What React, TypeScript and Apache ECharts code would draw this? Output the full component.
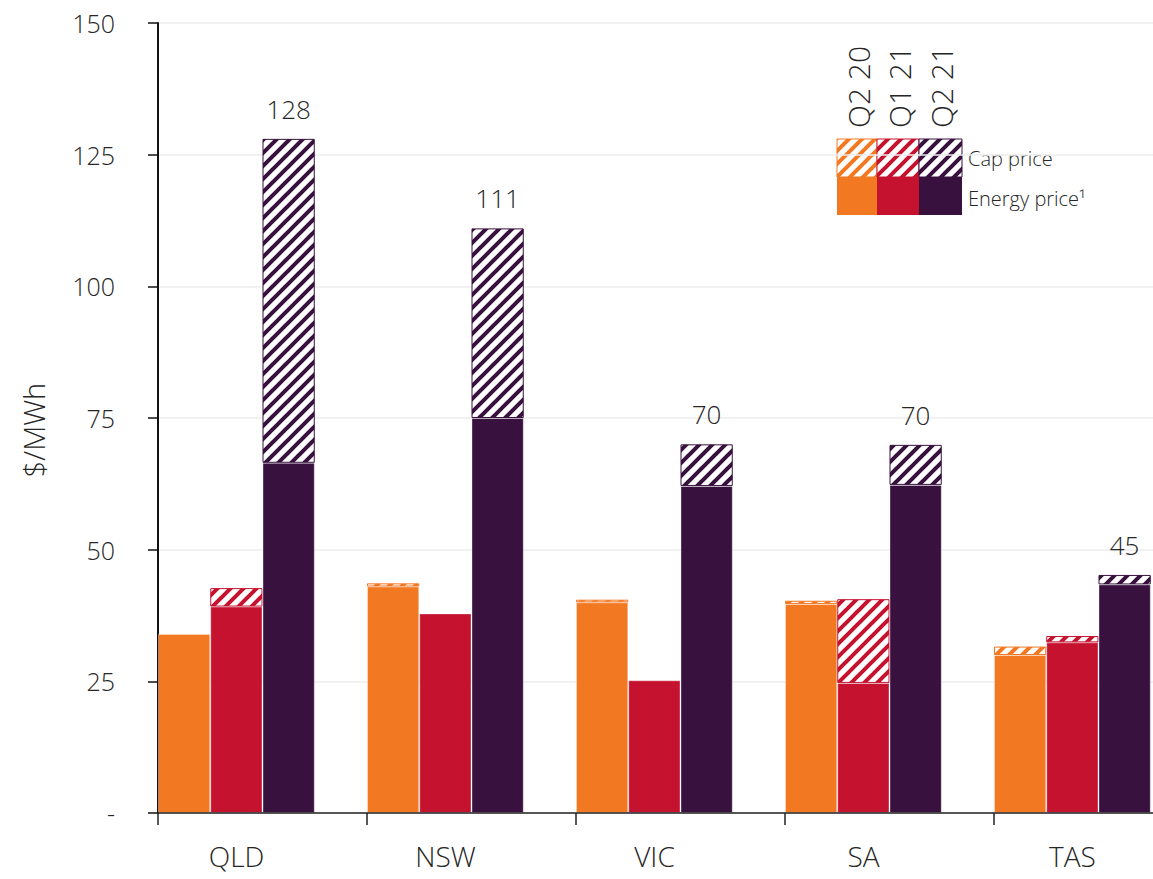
import React, { useEffect, useRef } from "react";
import * as echarts from "echarts";

const categories = ["QLD", "NSW", "VIC", "SA", "TAS"];
const periods = ["Q2 20", "Q1 21", "Q2 21"];
const energyQ220 = [34.0, 43.0, 40.0, 39.7, 30.0];
const capQ220 = [0, 0.6, 0.5, 0.6, 1.6];
const energyQ121 = [39.2, 37.9, 25.2, 24.7, 32.4];
const capQ121 = [3.5, 0, 0, 15.9, 1.2];
const energyQ221 = [66.5, 75.0, 62.1, 62.3, 43.4];
const capQ221 = [61.5, 36.0, 7.9, 7.6, 1.8];
const totalQ221 = [128, 111, 70, 70, 45];
const yTicks = [0, 25, 50, 75, 100, 125, 150];

const colors = ["#F37822", "#C5132F", "#38113E"];
const FONT = "'Open Sans', 'Noto Sans', sans-serif";
const TXT = "#262626";

function makeHatch(color: string) {
  const s = 13;
  const c = document.createElement("canvas");
  c.width = s;
  c.height = s;
  const ctx = c.getContext("2d")!;
  ctx.fillStyle = "#ffffff";
  ctx.fillRect(0, 0, s, s);
  ctx.strokeStyle = color;
  ctx.lineWidth = 4;
  ctx.lineCap = "square";
  for (let k = -1; k <= 1; k++) {
    ctx.beginPath();
    ctx.moveTo(k * s - 1, s + 1);
    ctx.lineTo(k * s + s + 1, -1);
    ctx.stroke();
  }
  return { image: c, repeat: "repeat", imageWidth: s, imageHeight: s } as any;
}

export default function App() {
  const ref = useRef<HTMLDivElement>(null);
  useEffect(() => {
    if (!ref.current) return;
    const chart = echarts.init(ref.current, null, { renderer: "svg" });
    const hatches = colors.map(makeHatch);
    const nz = (arr: number[]) => arr.map((v) => (v === 0 ? "-" : v));
    const energies = [energyQ220, energyQ121, energyQ221];
    const caps = [capQ220, capQ121, capQ221];

    const series: any[] = [];
    periods.forEach((p, i) => {
      series.push({
        name: p + " energy",
        type: "bar",
        stack: "s" + i,
        data: nz(energies[i]),
        itemStyle: { color: colors[i], borderColor: "rgba(255,255,255,0.35)", borderWidth: 1 },
        barGap: "0%",
        barCategoryGap: "0%",
      });
      const capSeries: any = {
        name: p + " cap",
        type: "bar",
        stack: "s" + i,
        data: nz(caps[i]),
        itemStyle: { color: hatches[i], borderColor: colors[i], borderWidth: 1 },
        barGap: "0%",
        barCategoryGap: "0%",
      };
      if (i === 2) {
        capSeries.label = {
          show: true,
          position: "top",
          distance: 17,
          formatter: (pr: any) => String(totalQ221[pr.dataIndex]),
          fontSize: 26,
          fontFamily: FONT,
          fontWeight: 300,
          color: TXT,
        };
      }
      series.push(capSeries);
    });
    series.push({
      name: "gap",
      type: "bar",
      stack: "gap",
      data: categories.map(() => 0),
      itemStyle: { color: "transparent", borderWidth: 0 },
      silent: true,
      barGap: "0%",
      barCategoryGap: "0%",
    });

    const colX = [837, 877, 919];
    const colW = [40, 42, 43];
    const graphic: any[] = [];
    periods.forEach((p, i) => {
      graphic.push({
        type: "rect",
        shape: { x: colX[i], y: 139, width: colW[i], height: 38 },
        style: { fill: hatches[i], stroke: colors[i], lineWidth: 1 },
      });
      graphic.push({
        type: "rect",
        shape: { x: colX[i], y: 177, width: colW[i], height: 38 },
        style: { fill: colors[i] },
      });
      graphic.push({
        type: "text",
        x: colX[i] + colW[i] / 2 + 1,
        y: 128,
        rotation: Math.PI / 2,
        style: {
          text: p,
          fontSize: 30,
          fontFamily: FONT,
          fontWeight: 300,
          fill: TXT,
          align: "left",
          verticalAlign: "middle",
        },
      });
    });
    graphic.push({
      type: "text",
      x: 968,
      y: 158,
      style: { text: "Cap price", fontSize: 20, fontFamily: FONT, fontWeight: 300, fill: TXT, verticalAlign: "middle" },
    });
    graphic.push({
      type: "text",
      x: 968,
      y: 198,
      style: { text: "Energy price\u00B9", fontSize: 20, fontFamily: FONT, fontWeight: 300, fill: TXT, verticalAlign: "middle" },
    });

    chart.setOption({
      animation: false,
      backgroundColor: "#ffffff",
      grid: { left: 158, top: 23, width: 1045, height: 790, containLabel: false },
      xAxis: {
        type: "category",
        data: categories,
        boundaryGap: true,
        axisLine: { lineStyle: { color: "#222222", width: 1.5 } },
        axisTick: { show: true, length: 12, lineStyle: { color: "#222222", width: 1.5 } },
        axisLabel: {
          fontSize: 28,
          fontFamily: FONT,
          fontWeight: 300,
          color: TXT,
          margin: 29,
          padding: [0, 52, 0, 0],
        },
        z: 5,
      },
      yAxis: {
        type: "value",
        min: yTicks[0],
        max: yTicks[yTicks.length - 1],
        interval: 25,
        name: "$/MWh",
        nameLocation: "middle",
        nameGap: 110,
        nameTextStyle: {
          fontSize: 29,
          fontFamily: FONT,
          fontWeight: 300,
          color: TXT,
          padding: [0, 24, 0, 0],
        },
        axisLine: { show: true, lineStyle: { color: "#111111", width: 2 } },
        axisTick: { show: true, length: 10, lineStyle: { color: "#111111", width: 1.5 } },
        axisLabel: {
          fontSize: 25,
          fontFamily: FONT,
          fontWeight: 300,
          color: TXT,
          margin: 43,
          formatter: (v: number) => (v === 0 ? "-" : String(v)),
        },
        splitLine: { show: true, lineStyle: { color: "#ececec", width: 1.5 } },
      },
      series,
      graphic,
    });
    return () => chart.dispose();
  }, []);
  return (
    <div style={{ position: "fixed", left: 0, top: 0, width: 1153, height: 879, overflow: "hidden", background: "#fff" }}>
      <div ref={ref} style={{ width: 1215, height: 879 }} />
    </div>
  );
}
